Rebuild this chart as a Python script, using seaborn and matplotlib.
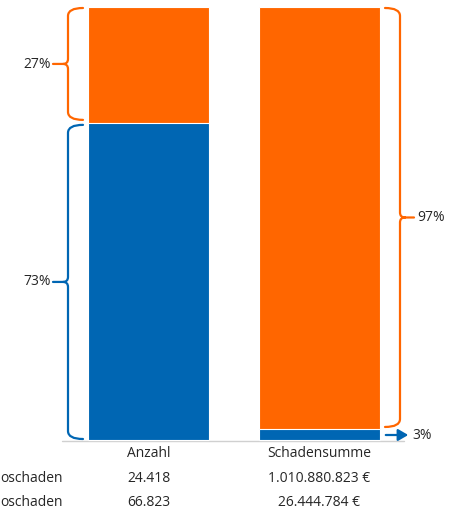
import matplotlib
matplotlib.use("Agg")
import matplotlib.pyplot as plt
from matplotlib.path import Path
from matplotlib.patches import PathPatch, FancyArrowPatch
import seaborn as sns
import pandas as pd

# ---- data ----
categories = ["Anzahl", "Schadensumme"]
row_labels = ["oschaden", "oschaden"]
orange_values = [24418, 1010880823]
blue_values = [66823, 26444784]
orange_text = ["24.418", "1.010.880.823 €"]
blue_text = ["66.823", "26.444.784 €"]

ORANGE = "#FF6600"
BLUE = "#0066B3"
TXT = "#262626"

totals = [o + b for o, b in zip(orange_values, blue_values)]
orange_pct = [100 * o / t for o, t in zip(orange_values, totals)]
blue_pct = [100 * b / t for b, t in zip(blue_values, totals)]

df_full = pd.DataFrame({"cat": categories, "val": [100.0] * len(categories)})
df_blue = pd.DataFrame({"cat": categories, "val": blue_pct})

sns.set_theme(style="white")
plt.rcParams["font.family"] = ["Open Sans", "DejaVu Sans"]

W, H = 454, 511
fig = plt.figure(figsize=(W / 100, H / 100), dpi=100)
ax = fig.add_axes([0, 0, 1, 1])

# pixel mapping
x0_px, dx_px = 148.5, 170.5      # bar 0 centre, distance between bars
y0_px, y100_px = 440.0, 7.0      # pixel rows (from top) for 0 and 100
sy = (y0_px - y100_px) / 100.0


def px_x(p):
    return (p - x0_px) / dx_px


def px_y(p):
    return (y0_px - p) / sy


bw = 121 / dx_px
sns.barplot(data=df_full, x="cat", y="val", color=ORANGE, width=bw,
            saturation=1, edgecolor="white", linewidth=0.8, ax=ax)
sns.barplot(data=df_blue, x="cat", y="val", color=BLUE, width=bw,
            saturation=1, edgecolor="white", linewidth=0.8, ax=ax)
ax.set_xlim(px_x(0), px_x(W))
ax.set_ylim(px_y(H), px_y(0))
ax.axis("off")

# baseline
ax.plot([px_x(62), px_x(404)], [px_y(441), px_y(441)], color="#D0D0D0", lw=1, zorder=0)


def brace(x_end, x_line, x_tip, y_top, y_bot, color):
    """Draw a curly brace in pixel coordinates (y from top)."""
    r = 8
    t = 5
    ym = (y_top + y_bot) / 2
    s = 1 if x_tip > x_line else -1
    pts = [
        (x_end, y_top),
        (x_line, y_top), (x_line, y_top + r),
        (x_line, ym - t),
        (x_line, ym), (x_line + s * t, ym),
        (x_tip, ym),
        (x_line + s * t, ym),
        (x_line, ym), (x_line, ym + t),
        (x_line, y_bot - r),
        (x_line, y_bot), (x_end, y_bot),
    ]
    codes = [Path.MOVETO,
             Path.CURVE3, Path.CURVE3,
             Path.LINETO,
             Path.CURVE3, Path.CURVE3,
             Path.LINETO,
             Path.MOVETO,
             Path.CURVE3, Path.CURVE3,
             Path.LINETO,
             Path.CURVE3, Path.CURVE3]
    verts = [(px_x(px), px_y(py)) for px, py in pts]
    ax.add_patch(PathPatch(Path(verts, codes), fill=False, edgecolor=color,
                           lw=1.6, capstyle="round", joinstyle="round"))


fs = 10
# left braces (Anzahl)
y_split0 = y0_px - blue_pct[0] * sy
brace(83, 68, 53, 8, y_split0 - 3, ORANGE)
brace(83, 68, 53, y_split0 + 2, 439, BLUE)
ax.text(px_x(51), px_y((8 + y_split0 - 3) / 2 + 1), f"{orange_pct[0]:.0f}%",
        ha="right", va="center", fontsize=fs, color=TXT)
ax.text(px_x(51), px_y((y_split0 + 2 + 439) / 2), f"{blue_pct[0]:.0f}%",
        ha="right", va="center", fontsize=fs, color=TXT)

# right brace (Schadensumme)
y_split1 = y0_px - blue_pct[1] * sy
brace(385, 400, 414, 8, y_split1 - 2, ORANGE)
ax.text(px_x(417), px_y((8 + y_split1 - 2) / 2), f"{orange_pct[1]:.0f}%",
        ha="left", va="center", fontsize=fs, color=TXT)
arr = FancyArrowPatch((px_x(383), px_y(435)), (px_x(411), px_y(435)),
                      arrowstyle="-|>,head_length=6,head_width=3.5",
                      color=BLUE, lw=1.6, mutation_scale=1)
ax.add_patch(arr)
ax.text(px_x(412), px_y(435), f"{blue_pct[1]:.0f}%",
        ha="left", va="center", fontsize=fs, color=TXT)

# table
for i, cat in enumerate(categories):
    ax.text(i, px_y(453), cat, ha="center", va="center", fontsize=fs, color=TXT)
    ax.text(i, px_y(478), orange_text[i], ha="center", va="center", fontsize=fs, color=TXT)
    ax.text(i, px_y(502), blue_text[i], ha="center", va="center", fontsize=fs, color=TXT)
ax.text(px_x(0), px_y(478), row_labels[0], ha="left", va="center", fontsize=fs, color=TXT)
ax.text(px_x(0), px_y(502), row_labels[1], ha="left", va="center", fontsize=fs, color=TXT)

fig.savefig("out.png", dpi=100)
